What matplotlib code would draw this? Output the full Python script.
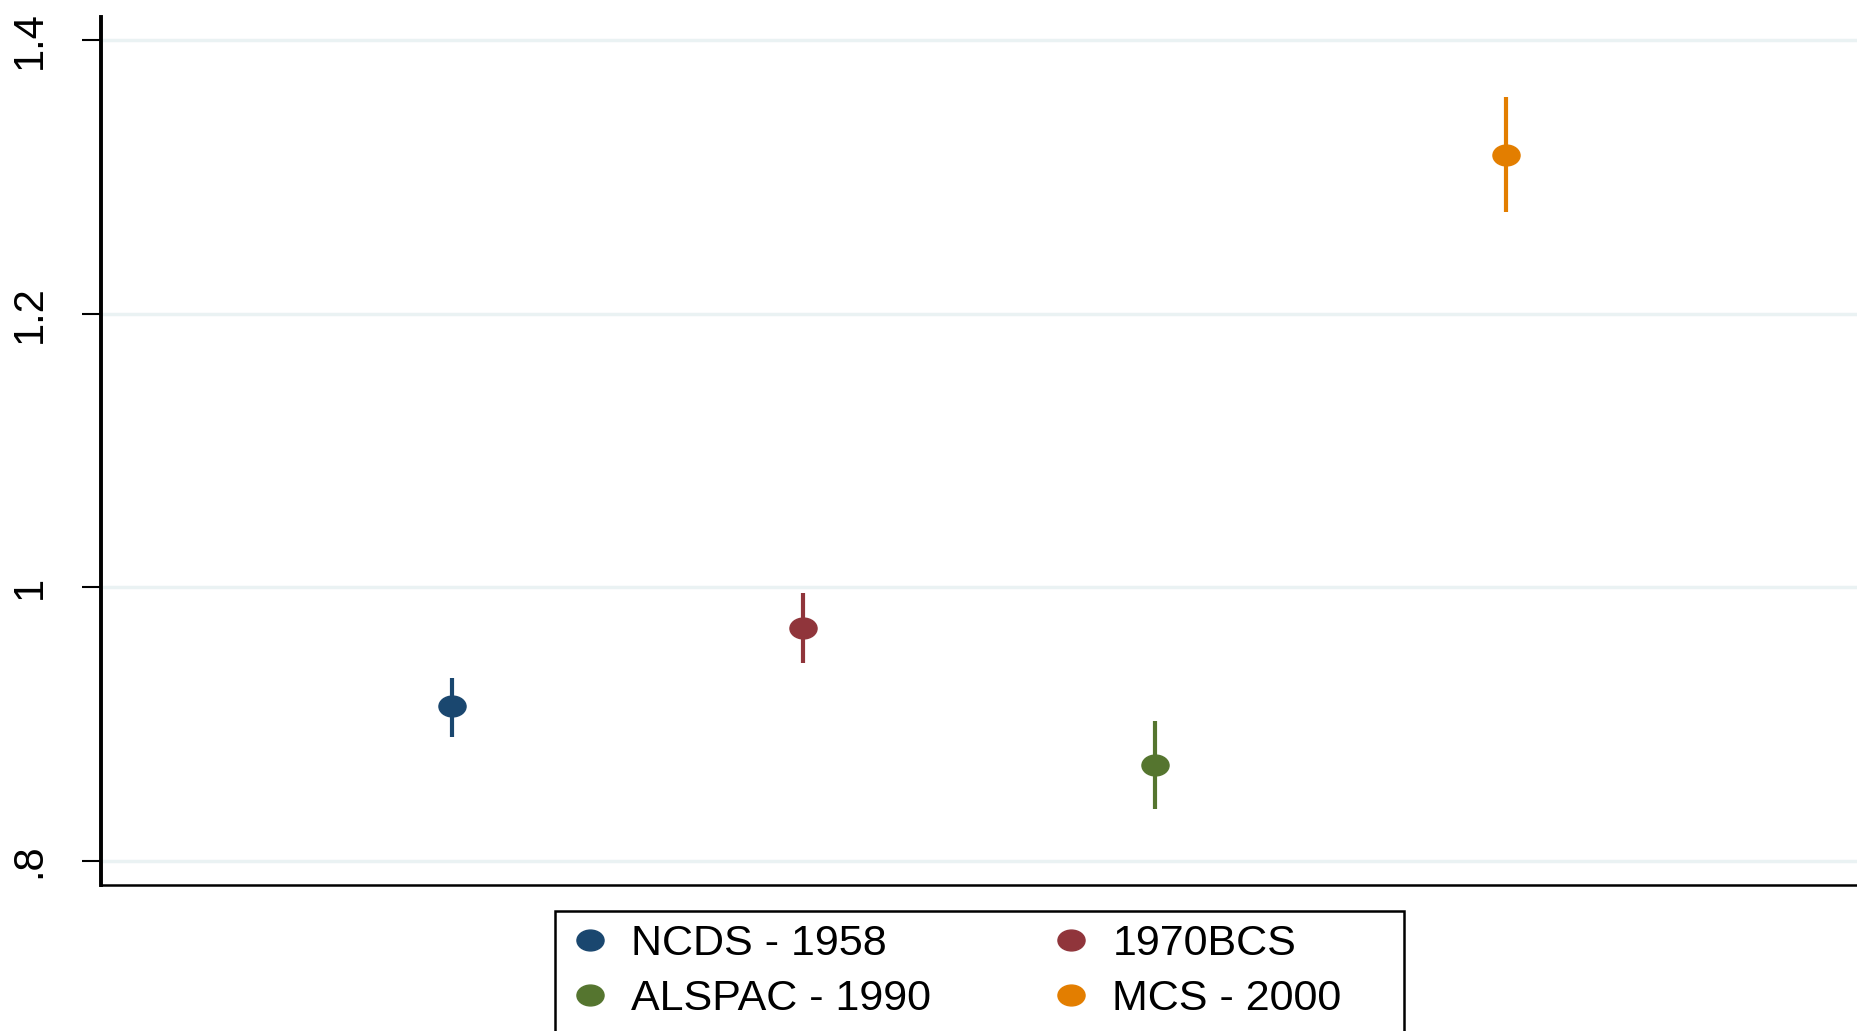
import numpy as np
import matplotlib.pyplot as plt
from matplotlib.path import Path
from matplotlib.patches import Rectangle
from matplotlib.transforms import Affine2D

plt.rcParams['font.family'] = ['Liberation Sans', 'DejaVu Sans']

cohorts = ["NCDS - 1958", "1970BCS", "ALSPAC - 1990", "MCS - 2000"]
positions = [1, 2, 3, 4]
estimates = [0.913, 0.970, 0.870, 1.316]
ci_low = [0.891, 0.945, 0.838, 1.274]
ci_high = [0.934, 0.996, 0.902, 1.358]
colors = ["#1a476f", "#90353b", "#55752f", "#e37e00"]

yticks = [0.8, 1.0, 1.2, 1.4]
ytick_labels = [".8", "1", "1.2", "1.4"]

# wide ellipse marker
ellipse = Path.unit_circle().transformed(Affine2D().scale(1.3, 1.0))

W, H = 1857, 1031
fig = plt.figure(figsize=(W / 100, H / 100), dpi=100)
ax = fig.add_axes([101 / W, 146 / H, 1 - 101 / W, 868 / H])

for i in range(len(cohorts)):
    ax.vlines(positions[i], ci_low[i], ci_high[i], color=colors[i], linewidth=3, zorder=3)
    ax.plot(positions[i], estimates[i], linestyle='none', marker=ellipse,
            markersize=19.5, color=colors[i], label=cohorts[i], zorder=4)

ax.set_xlim(0, 5)
ax.set_ylim(0.7825, 1.4168)
ax.set_yticks(yticks)
ax.set_yticklabels(ytick_labels, rotation=90, va='center', fontsize=30)
ax.tick_params(axis='y', length=14, width=1.5, pad=23)
ax.set_xticks([])
ax.grid(axis='y', color='#eaf2f3', linewidth=2.5, zorder=0)
ax.set_axisbelow(True)

for side in ['top', 'right']:
    ax.spines[side].set_visible(False)
ax.spines['left'].set_linewidth(2.8)
ax.spines['bottom'].set_linewidth(1.8)

# legend in reading order: row 1 NCDS / 1970BCS, row 2 ALSPAC / MCS
handles, labels = ax.get_legend_handles_labels()
order = [0, 2, 1, 3]
leg_left, leg_top, leg_right = 555, 911, 1404
fig.legend([handles[k] for k in order], [labels[k] for k in order],
           ncol=2, loc='upper left', bbox_to_anchor=(leg_left / W, 1 - leg_top / H),
           fontsize=31, frameon=False,
           handlelength=1.03, handletextpad=0.44, columnspacing=2.74,
           borderpad=0.30, labelspacing=0.35, borderaxespad=0)

# legend box runs past the bottom edge
fig.patches.append(Rectangle((leg_left / W, -0.1), (leg_right - leg_left) / W,
                             0.1 + 1 - leg_top / H, transform=fig.transFigure,
                             fill=False, edgecolor='black', linewidth=1.8))

fig.savefig("out.png", dpi=100)
